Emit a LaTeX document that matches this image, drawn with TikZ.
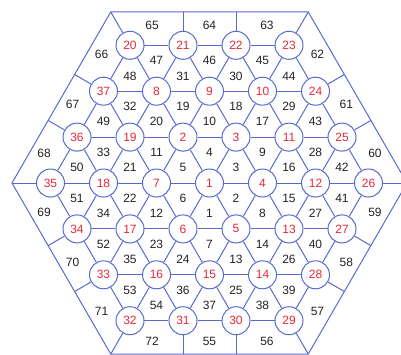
\documentclass[tikz,border=0pt]{standalone}
\usepackage{fontspec}
\setmainfont{Liberation Sans}
\usetikzlibrary{calc}
\definecolor{gridblue}{RGB}{88,106,206}
\definecolor{idred}{RGB}{232,40,56}
\definecolor{numgray}{RGB}{34,34,34}

\begin{document}
\begin{tikzpicture}[x=1pt, y=1pt,
  wire/.style={gridblue, line width=1pt},
  site/.style={circle, draw=gridblue, line width=1pt, fill=white,
               minimum size=28pt, inner sep=0pt, text=idred,
               font=\fontsize{12}{14}\selectfont},
  num/.style={text=numgray, inner sep=0pt, font=\fontsize{12}{14}\selectfont}
]
  \clip (-209.5,-171) rectangle (191.5,183);

  % hexagon frame
  \coordinate (c0) at (0:197.5);
  \coordinate (c60) at (60:197.5);
  \coordinate (c120) at (120:197.5);
  \coordinate (c180) at (180:197.5);
  \coordinate (c240) at (240:197.5);
  \coordinate (c300) at (300:197.5);
  \draw[wire] (c0) -- (c60) -- (c120) -- (c180) -- (c240) -- (c300) -- cycle;

  % sites, top row to bottom row
  \node[site] (n20) at (-79.5,137.7) {20};
  \node[site] (n21) at (-26.5,137.7) {21};
  \node[site] (n22) at (26.5,137.7) {22};
  \node[site] (n23) at (79.5,137.7) {23};

  \node[site] (n37) at (-106,91.8) {37};
  \node[site] (n8) at (-53,91.8) {8};
  \node[site] (n9) at (0,91.8) {9};
  \node[site] (n10) at (53,91.8) {10};
  \node[site] (n24) at (106,91.8) {24};

  \node[site] (n36) at (-132.5,45.9) {36};
  \node[site] (n19) at (-79.5,45.9) {19};
  \node[site] (n2) at (-26.5,45.9) {2};
  \node[site] (n3) at (26.5,45.9) {3};
  \node[site] (n11) at (79.5,45.9) {11};
  \node[site] (n25) at (132.5,45.9) {25};

  \node[site] (n35) at (-159,0) {35};
  \node[site] (n18) at (-106,0) {18};
  \node[site] (n7) at (-53,0) {7};
  \node[site] (n1) at (0,0) {1};
  \node[site] (n4) at (53,0) {4};
  \node[site] (n12) at (106,0) {12};
  \node[site] (n26) at (159,0) {26};

  \node[site] (n34) at (-132.5,-45.9) {34};
  \node[site] (n17) at (-79.5,-45.9) {17};
  \node[site] (n6) at (-26.5,-45.9) {6};
  \node[site] (n5) at (26.5,-45.9) {5};
  \node[site] (n13) at (79.5,-45.9) {13};
  \node[site] (n27) at (132.5,-45.9) {27};

  \node[site] (n33) at (-106,-91.8) {33};
  \node[site] (n16) at (-53,-91.8) {16};
  \node[site] (n15) at (0,-91.8) {15};
  \node[site] (n14) at (53,-91.8) {14};
  \node[site] (n28) at (106,-91.8) {28};

  \node[site] (n32) at (-79.5,-137.7) {32};
  \node[site] (n31) at (-26.5,-137.7) {31};
  \node[site] (n30) at (26.5,-137.7) {30};
  \node[site] (n29) at (79.5,-137.7) {29};

  % lattice lines: rows
  \draw[wire] (n20) -- (n21) -- (n22) -- (n23);
  \draw[wire] (n37) -- (n8) -- (n9) -- (n10) -- (n24);
  \draw[wire] (n36) -- (n19) -- (n2) -- (n3) -- (n11) -- (n25);
  \draw[wire] (n35) -- (n18) -- (n7) -- (n1) -- (n4) -- (n12) -- (n26);
  \draw[wire] (n34) -- (n17) -- (n6) -- (n5) -- (n13) -- (n27);
  \draw[wire] (n33) -- (n16) -- (n15) -- (n14) -- (n28);
  \draw[wire] (n32) -- (n31) -- (n30) -- (n29);
  % lattice lines: falling to the right
  \draw[wire] (n35) -- (n34) -- (n33) -- (n32);
  \draw[wire] (n36) -- (n18) -- (n17) -- (n16) -- (n31);
  \draw[wire] (n37) -- (n19) -- (n7) -- (n6) -- (n15) -- (n30);
  \draw[wire] (n20) -- (n8) -- (n2) -- (n1) -- (n5) -- (n14) -- (n29);
  \draw[wire] (n21) -- (n9) -- (n3) -- (n4) -- (n13) -- (n28);
  \draw[wire] (n22) -- (n10) -- (n11) -- (n12) -- (n27);
  \draw[wire] (n23) -- (n24) -- (n25) -- (n26);
  % lattice lines: falling to the left
  \draw[wire] (n20) -- (n37) -- (n36) -- (n35);
  \draw[wire] (n21) -- (n8) -- (n19) -- (n18) -- (n34);
  \draw[wire] (n22) -- (n9) -- (n2) -- (n7) -- (n17) -- (n33);
  \draw[wire] (n23) -- (n10) -- (n3) -- (n1) -- (n6) -- (n16) -- (n32);
  \draw[wire] (n24) -- (n11) -- (n4) -- (n5) -- (n15) -- (n31);
  \draw[wire] (n25) -- (n12) -- (n13) -- (n14) -- (n30);
  \draw[wire] (n26) -- (n27) -- (n28) -- (n29);

  % spokes out to the frame
  \coordinate (s21) at ($(c120)!(n21)!(c60)$);
  \coordinate (s22) at ($(c120)!(n22)!(c60)$);
  \coordinate (s24) at ($(c60)!(n24)!(c0)$);
  \coordinate (s25) at ($(c60)!(n25)!(c0)$);
  \coordinate (s27) at ($(c0)!(n27)!(c300)$);
  \coordinate (s28) at ($(c0)!(n28)!(c300)$);
  \coordinate (s30) at ($(c300)!(n30)!(c240)$);
  \coordinate (s31) at ($(c300)!(n31)!(c240)$);
  \coordinate (s33) at ($(c240)!(n33)!(c180)$);
  \coordinate (s34) at ($(c240)!(n34)!(c180)$);
  \coordinate (s36) at ($(c180)!(n36)!(c120)$);
  \coordinate (s37) at ($(c180)!(n37)!(c120)$);
  \draw[wire] (n20) -- (c120);
  \draw[wire] (n21) -- (s21);
  \draw[wire] (n22) -- (s22);
  \draw[wire] (n23) -- (c60);
  \draw[wire] (n24) -- (s24);
  \draw[wire] (n25) -- (s25);
  \draw[wire] (n26) -- (c0);
  \draw[wire] (n27) -- (s27);
  \draw[wire] (n28) -- (s28);
  \draw[wire] (n29) -- (c300);
  \draw[wire] (n30) -- (s30);
  \draw[wire] (n31) -- (s31);
  \draw[wire] (n32) -- (c240);
  \draw[wire] (n33) -- (s33);
  \draw[wire] (n34) -- (s34);
  \draw[wire] (n35) -- (c180);
  \draw[wire] (n36) -- (s36);
  \draw[wire] (n37) -- (s37);

  % triangle numbers
  \node[num] (f47) at (barycentric cs:n20=1,n21=1,n8=1) {47};
  \node[num] (f46) at (barycentric cs:n21=1,n22=1,n9=1) {46};
  \node[num] (f45) at (barycentric cs:n22=1,n23=1,n10=1) {45};
  \node[num] (f48) at (barycentric cs:n20=1,n37=1,n8=1) {48};
  \node[num] (f31) at (barycentric cs:n21=1,n8=1,n9=1) {31};
  \node[num] (f30) at (barycentric cs:n22=1,n9=1,n10=1) {30};
  \node[num] (f44) at (barycentric cs:n23=1,n10=1,n24=1) {44};

  \node[num] (f32) at (barycentric cs:n37=1,n8=1,n19=1) {32};
  \node[num] (f19) at (barycentric cs:n8=1,n9=1,n2=1) {19};
  \node[num] (f18) at (barycentric cs:n9=1,n10=1,n3=1) {18};
  \node[num] (f29) at (barycentric cs:n10=1,n24=1,n11=1) {29};
  \node[num] (f49) at (barycentric cs:n37=1,n36=1,n19=1) {49};
  \node[num] (f20) at (barycentric cs:n8=1,n19=1,n2=1) {20};
  \node[num] (f10) at (barycentric cs:n9=1,n2=1,n3=1) {10};
  \node[num] (f17) at (barycentric cs:n10=1,n3=1,n11=1) {17};
  \node[num] (f43) at (barycentric cs:n24=1,n11=1,n25=1) {43};

  \node[num] (f33) at (barycentric cs:n36=1,n19=1,n18=1) {33};
  \node[num] (f11) at (barycentric cs:n19=1,n2=1,n7=1) {11};
  \node[num] (f4) at (barycentric cs:n2=1,n3=1,n1=1) {4};
  \node[num] (f9) at (barycentric cs:n3=1,n11=1,n4=1) {9};
  \node[num] (f28) at (barycentric cs:n11=1,n25=1,n12=1) {28};
  \node[num] (f50) at (barycentric cs:n36=1,n35=1,n18=1) {50};
  \node[num] (f21) at (barycentric cs:n19=1,n18=1,n7=1) {21};
  \node[num] (f5) at (barycentric cs:n2=1,n7=1,n1=1) {5};
  \node[num] (f3) at (barycentric cs:n3=1,n1=1,n4=1) {3};
  \node[num] (f16) at (barycentric cs:n11=1,n4=1,n12=1) {16};
  \node[num] (f42) at (barycentric cs:n25=1,n12=1,n26=1) {42};

  \node[num] (f51) at (barycentric cs:n35=1,n18=1,n34=1) {51};
  \node[num] (f22) at (barycentric cs:n18=1,n7=1,n17=1) {22};
  \node[num] (f6) at (barycentric cs:n7=1,n1=1,n6=1) {6};
  \node[num] (f2) at (barycentric cs:n1=1,n4=1,n5=1) {2};
  \node[num] (f15) at (barycentric cs:n4=1,n12=1,n13=1) {15};
  \node[num] (f41) at (barycentric cs:n12=1,n26=1,n27=1) {41};
  \node[num] (f34) at (barycentric cs:n18=1,n34=1,n17=1) {34};
  \node[num] (f12) at (barycentric cs:n7=1,n17=1,n6=1) {12};
  \node[num] (f1) at (barycentric cs:n1=1,n6=1,n5=1) {1};
  \node[num] (f8) at (barycentric cs:n4=1,n5=1,n13=1) {8};
  \node[num] (f27) at (barycentric cs:n12=1,n13=1,n27=1) {27};

  \node[num] (f52) at (barycentric cs:n34=1,n17=1,n33=1) {52};
  \node[num] (f23) at (barycentric cs:n17=1,n6=1,n16=1) {23};
  \node[num] (f7) at (barycentric cs:n6=1,n5=1,n15=1) {7};
  \node[num] (f14) at (barycentric cs:n5=1,n13=1,n14=1) {14};
  \node[num] (f40) at (barycentric cs:n13=1,n27=1,n28=1) {40};
  \node[num] (f35) at (barycentric cs:n17=1,n33=1,n16=1) {35};
  \node[num] (f24) at (barycentric cs:n6=1,n16=1,n15=1) {24};
  \node[num] (f13) at (barycentric cs:n5=1,n15=1,n14=1) {13};
  \node[num] (f26) at (barycentric cs:n13=1,n14=1,n28=1) {26};

  \node[num] (f53) at (barycentric cs:n33=1,n16=1,n32=1) {53};
  \node[num] (f36) at (barycentric cs:n16=1,n15=1,n31=1) {36};
  \node[num] (f25) at (barycentric cs:n15=1,n14=1,n30=1) {25};
  \node[num] (f39) at (barycentric cs:n14=1,n28=1,n29=1) {39};
  \node[num] (f54) at (barycentric cs:n16=1,n32=1,n31=1) {54};
  \node[num] (f37) at (barycentric cs:n15=1,n31=1,n30=1) {37};
  \node[num] (f38) at (barycentric cs:n14=1,n30=1,n29=1) {38};

  % border cells
  \node[num] (f65) at (110:168) {65};
  \node[num] (f64) at (90:158) {64};
  \node[num] (f63) at (70:168) {63};
  \node[num] (f62) at (50:168) {62};
  \node[num] (f61) at (30:158) {61};
  \node[num] (f60) at (10:168) {60};
  \node[num] (f59) at (-10:168) {59};
  \node[num] (f58) at (-30:158) {58};
  \node[num] (f57) at (-50:168) {57};
  \node[num] (f56) at (-70:168) {56};
  \node[num] (f55) at (-90:158) {55};
  \node[num] (f72) at (-110:168) {72};
  \node[num] (f71) at (-130:168) {71};
  \node[num] (f70) at (-150:158) {70};
  \node[num] (f69) at (-170:168) {69};
  \node[num] (f68) at (170:168) {68};
  \node[num] (f67) at (150:158) {67};
  \node[num] (f66) at (130:168) {66};
\end{tikzpicture}
\end{document}
